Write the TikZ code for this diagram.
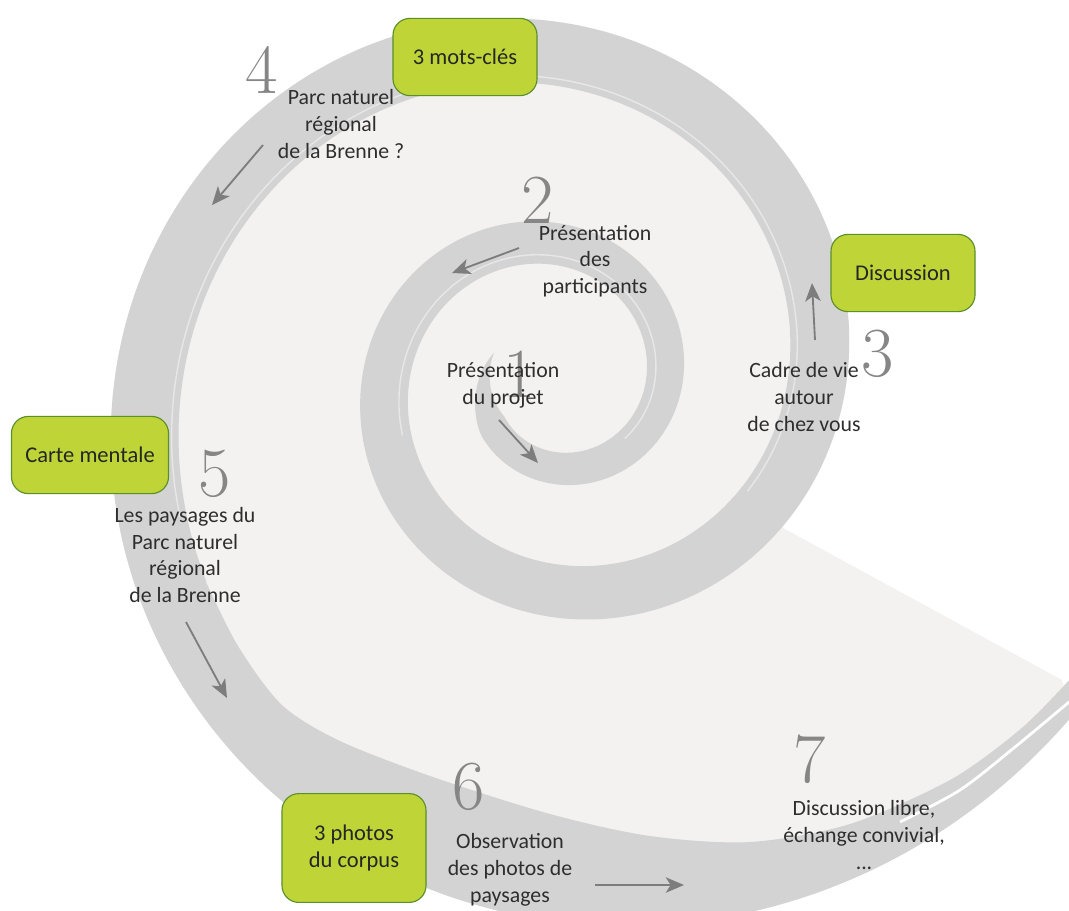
\documentclass[tikz,border=0pt]{standalone}
\usepackage{fontspec}
\newfontfamily\calibri{Carlito}
\usepackage{tikz}
\usetikzlibrary{arrows.meta}

\definecolor{shellin}{HTML}{F3F2F0}
\definecolor{shellband}{HTML}{D3D3D3}
\definecolor{shellline}{HTML}{E7E7E7}
\definecolor{boxgreen}{HTML}{BED437}
\definecolor{boxedge}{HTML}{5B8F2A}
\definecolor{numgray}{HTML}{868686}
\definecolor{arrowgray}{HTML}{7D7D7D}
\definecolor{txtgray}{HTML}{2E2E2E}

\begin{document}
\begin{tikzpicture}[x=0.025cm, y=-0.025cm,
    declare function={rout(\t)=128*exp(0.0022895*\t); rin(\t)=91*exp(0.0026111*\t);
        tap(\t)=min(1,(\t+204)/60);
        ro(\t)=0.5*(rout(\t)+rin(\t))+0.5*(rout(\t)-rin(\t))*tap(\t);
        ri(\t)=0.5*(rout(\t)+rin(\t))-0.5*(rout(\t)-rin(\t))*tap(\t);},
    stepbox/.style={draw=boxedge, line width=0.8pt, fill=boxgreen, rounded corners=12pt,
        minimum width=3.6cm, minimum height=1.93cm, align=center, text=black!85,
        font=\calibri\fontsize{16}{19.5}\selectfont},
    steptext/.style={align=center, inner sep=0pt, text=txtgray,
        font=\calibri\fontsize{15.5}{19}\selectfont},
    stepnum/.style={inner sep=0pt, text=numgray, font=\fontsize{50}{50}\selectfont},
    flow/.style={draw=arrowgray, line width=1.3pt, -{Stealth[length=13pt, width=11pt, inset=3.5pt]}}]

    \useasboundingbox (0,0) rectangle (1069,910);
    \clip (0,0) rectangle (1069,910);

    % Inside of the shell
    \fill[shellin] plot[domain=327:687, samples=90, smooth]
        ({555+rout(\x)*cos(\x)}, {380-rout(\x)*sin(\x)}) -- (1062,680) -- cycle;

    % Spiral band (centre 555,380)
    \fill[shellband] plot[domain=-204:700, samples=190, smooth]
        ({555+ro(\x)*cos(\x)}, {380-ro(\x)*sin(\x)})
      -- plot[smooth] coordinates {(1100,645) (1060,690) (1017,732) (950,780) (850,824)
        (750,842) (650,836) (550,814) (433,777) (340,741) (282,705) (238,646) (206,582)}
      -- plot[domain=570:-204, samples=170, smooth]
        ({555+ri(\x)*cos(\x)}, {380-ri(\x)*sin(\x)}) -- cycle;

    % Brush lines in the band
    \draw[shellline, line width=1pt] plot[domain=-40:200, samples=50, smooth]
        ({555+(rin(\x)+9)*cos(\x)}, {380-(rin(\x)+9)*sin(\x)});
    \draw[shellline, line width=1pt] plot[domain=330:560, samples=50, smooth]
        ({555+(rin(\x)+7)*cos(\x)}, {380-(rin(\x)+7)*sin(\x)});
    \draw[white, line width=2pt] plot[smooth] coordinates {(900,822) (960,790) (1015,747) (1069,702)};

    % Step numbers
    \node[stepnum] (n1) at (520,374) {1};
    \node[stepnum] (n2) at (538,200) {2};
    \node[stepnum] (n3) at (878,354) {3};
    \node[stepnum] (n4) at (262,70) {4};
    \node[stepnum] (n5) at (215,474) {5};
    \node[stepnum] (n6) at (469,787) {6};
    \node[stepnum] (n7) at (810,759) {7};

    % Step texts
    \node[steptext] (t1) at (503,385) {Présentation\\du projet};
    \node[steptext] (t2) at (595,261) {Présentation\\des\\participants};
    \node[steptext] (t3) at (804,397) {Cadre de vie\\autour\\de chez vous};
    \node[steptext] (t4) at (341,124) {Parc naturel\\régional\\de la Brenne ?};
    \node[steptext] (t5) at (185,555) {Les paysages du\\Parc naturel\\régional\\de la Brenne};
    \node[steptext] (t6) at (510,870) {Observation\\des photos de\\paysages};
    \node[steptext] (t7) at (864,835) {Discussion libre,\\échange convivial,\\...};

    % Green boxes
    \node[stepbox] (motscles) at (465,57) {3 mots-clés};
    \node[stepbox] (discussion) at (903,273) {Discussion};
    \node[stepbox, minimum width=3.925cm] (carte) at (90,455) {Carte mentale};
    \node[stepbox, minimum height=2.72cm] (photos) at (354,848) {3 photos\\du corpus};

    % Direction arrows
    \coordinate (a1s) at (499,420); \coordinate (a1e) at (538,463);
    \coordinate (a2s) at (519,248); \coordinate (a2e) at (452,273);
    \coordinate (a3s) at (815,340); \coordinate (a3e) at (812,283);
    \coordinate (a4s) at (263,145); \coordinate (a4e) at (212,205);
    \coordinate (a5s) at (186,622); \coordinate (a5e) at (227,698);
    \coordinate (a6s) at (595,885); \coordinate (a6e) at (684,885);
    \draw[flow] (a1s) -- (a1e);
    \draw[flow] (a2s) -- (a2e);
    \draw[flow] (a3s) -- (a3e);
    \draw[flow] (a4s) -- (a4e);
    \draw[flow] (a5s) -- (a5e);
    \draw[flow] (a6s) -- (a6e);
\end{tikzpicture}
\end{document}
